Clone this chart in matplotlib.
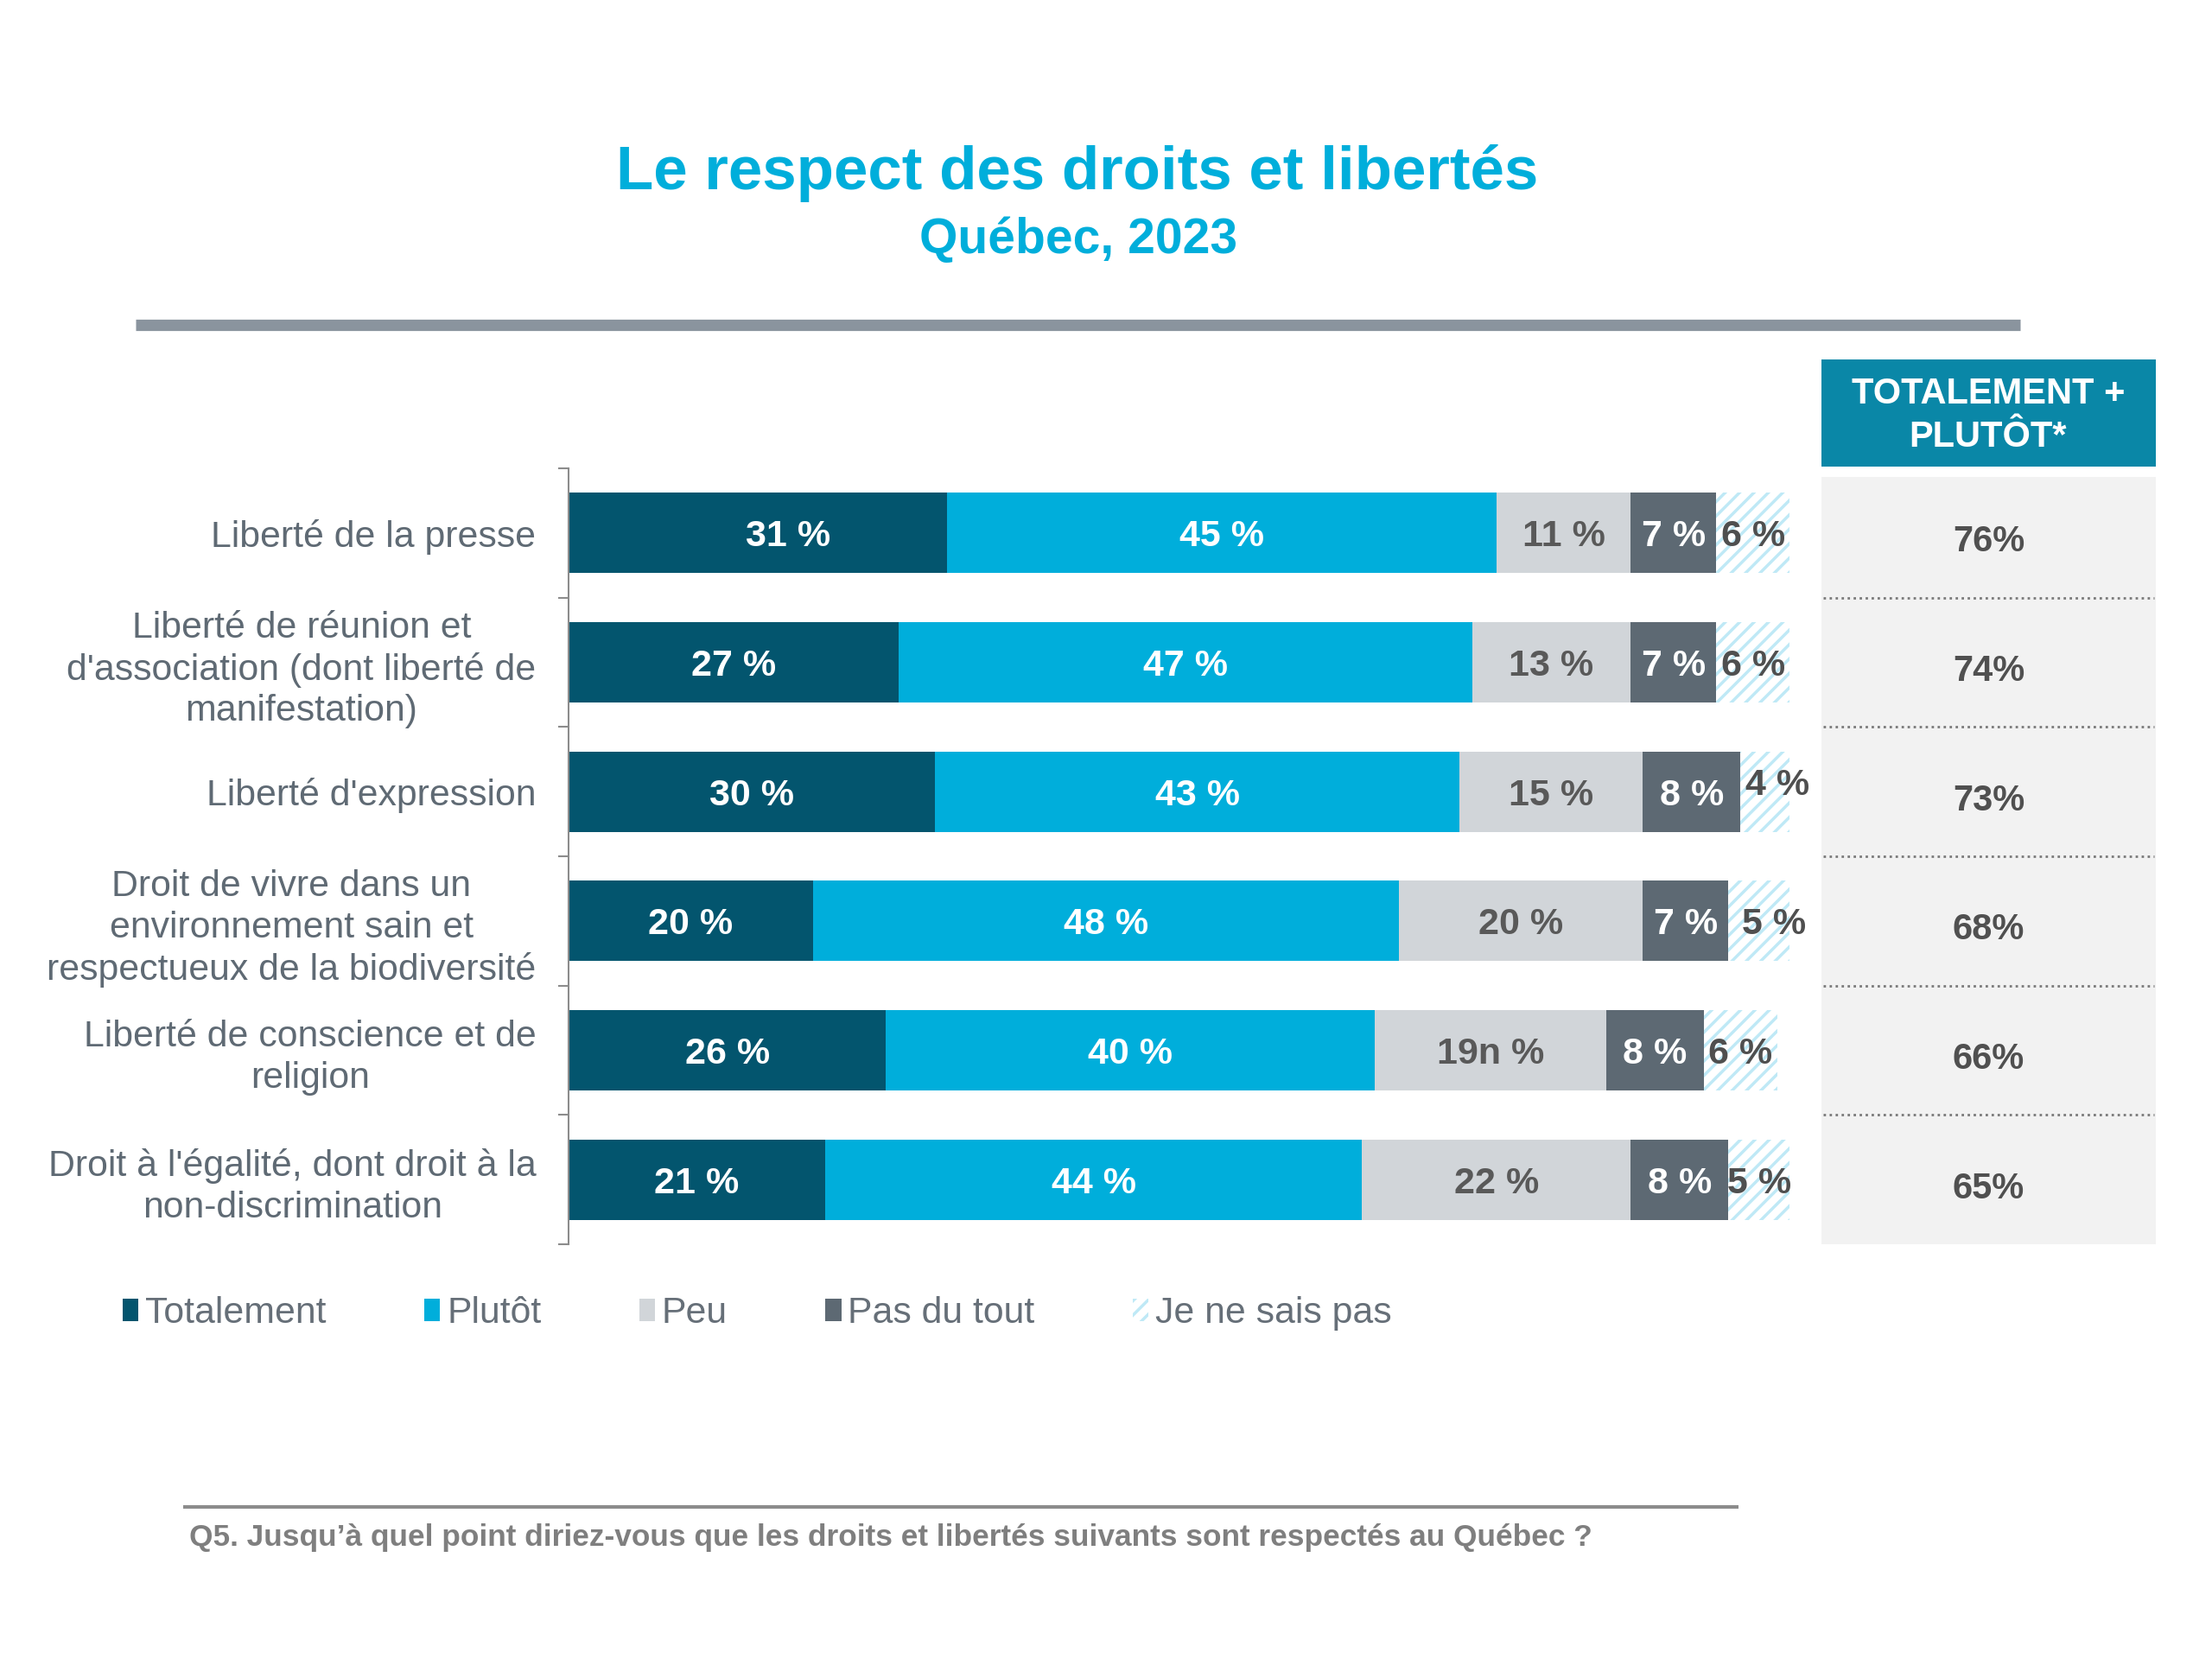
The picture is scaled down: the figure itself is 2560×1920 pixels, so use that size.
# -*- coding: utf-8 -*-
"""
Le respect des droits et libertés - Québec, 2023
"""
#%% import
import numpy as np
import matplotlib.pyplot as plt
import matplotlib.patches as mpatches
import matplotlib.lines as mlines

plt.rcParams['font.family'] = ['Liberation Sans', 'DejaVu Sans']
plt.rcParams['hatch.linewidth'] = 2.5

#%% data
categories = ['Liberté de la presse',
              "Liberté de réunion et\nd'association (dont liberté de\nmanifestation)",
              "Liberté d'expression",
              'Droit de vivre dans un\nenvironnement sain et\nrespectueux de la biodiversité',
              'Liberté de conscience et de\nreligion',
              "Droit à l'égalité, dont droit à la\nnon-discrimination"]
series = ['Totalement', 'Plutôt', 'Peu', 'Pas du tout', 'Je ne sais pas']
totalement = [31, 27, 30, 20, 26, 21]
plutot = [45, 47, 43, 48, 40, 44]
peu = [11, 13, 15, 20, 19, 22]
pas_du_tout = [7, 7, 8, 7, 8, 8]
ne_sais_pas = [6, 6, 4, 5, 6, 5]
# labels as printed on the original slide (incl. the "19n" typo)
peu_labels = ['11 %', '13 %', '15 %', '20 %', '19n %', '22 %']
total_plus = [76, 74, 73, 68, 66, 65]

#%% styles
W, H = 2560, 1920
colors = ['#03556e', '#00aedb', '#d1d5d9', '#5d6973', 'white']
txt_colors = ['white', 'white', '#595959', 'white', '#4f4f4f']
label_gray = '#5f6a74'
# small label nudges (series, row) -> (dx, dy), as on the slide
nudges = {(0, 0): (2.5, 0), (4, 2): (1.0, -0.08), (4, 3): (1.2, 0)}

fig = plt.figure(figsize=(W/100, H/100), dpi=100)
ax = fig.add_axes([658/W, 1 - 1440/H, (2071 - 658)/W, 898/H])

y = np.arange(len(categories))
left = np.zeros(len(categories))
all_vals = [totalement, plutot, peu, pas_du_tout, ne_sais_pas]
for k, (vals, name) in enumerate(zip(all_vals, series)):
    vals = np.array(vals)
    if name == 'Je ne sais pas':
        bars = ax.barh(y, vals, left=left, height=0.62, color='white',
                       edgecolor='#bfe9f6', hatch='//', lw=0, label=name)
    else:
        bars = ax.barh(y, vals, left=left, height=0.62, color=colors[k],
                       lw=0, label=name)
    for i, v in enumerate(vals):
        lab = peu_labels[i] if name == 'Peu' else f'{v} %'
        dx, dy = nudges.get((k, i), (0, 0))
        ax.text(left[i] + v/2 + dx, y[i] + 0.03 + dy, lab, ha='center',
                va='center', fontsize=31, fontweight='bold',
                color=txt_colors[k])
    left = left + vals

ax.set_xlim(0, 100)
ax.set_ylim(5.5, -0.5)
ax.xaxis.set_visible(False)
for s in ['top', 'right', 'bottom']:
    ax.spines[s].set_visible(False)
ax.spines['left'].set_color('#8c8c8c')
ax.spines['left'].set_linewidth(1.5)
ax.set_yticks(y)
ax.set_yticklabels(categories, fontsize=30.8, color=label_gray,
                   multialignment='center', linespacing=1.25)
ax.tick_params(axis='y', which='major', length=0, pad=27)
ax.set_yticks(np.arange(-0.5, len(categories)), minor=True)
ax.tick_params(axis='y', which='minor', length=9, width=1.5,
               color='#8c8c8c', direction='out')
ax.set_facecolor('none')

#%% side panel
pax = fig.add_axes([2108/W, 1 - 1440/H, 387/W, 888/H])
pax.set_xlim(0, 1)
pax.set_ylim(5.5, -0.5 + 10/150)
pax.set_facecolor('#f2f2f2')
for s in pax.spines.values():
    s.set_visible(False)
pax.set_xticks([])
pax.set_yticks([])
for i, v in enumerate(total_plus):
    pax.text(0.5, y[i] + 0.07, f'{v}%', ha='center', va='center',
             fontsize=30, fontweight='bold', color='#505050')
pax.hlines(y[:-1] + 0.5, 0.005, 0.995, colors='#7a7a7a',
           linestyles=(0, (1, 1.5)), lw=2)

fig.add_artist(mpatches.Rectangle((2108/W, 1 - 540/H), 387/W, 124/H,
                                  transform=fig.transFigure,
                                  color='#0a87a7', lw=0))
fig.text(2301/W, 1 - 481/H, 'TOTALEMENT +\nPLUTÔT*', ha='center',
         va='center', fontsize=30, fontweight='bold', color='white',
         linespacing=1.32)

#%% titles
fig.text(0.487, 1 - 201/H, 'Le respect des droits et libertés',
         ha='center', va='center', fontsize=51, fontweight='bold',
         color='#00aedb')
fig.text(0.4875, 1 - 278/H, 'Québec, 2023', ha='center', va='center',
         fontsize=41, fontweight='bold', color='#00aedb')
fig.add_artist(mlines.Line2D([157/W, 2338/W], [1 - 376/H, 1 - 376/H],
                             color='#8a949e', lw=9.5, solid_capstyle='butt',
                             transform=fig.transFigure))

#%% legend
handles, labels = ax.get_legend_handles_labels()
leg = fig.legend(handles, labels, loc='center left',
                 bbox_to_anchor=(142/W, 1 - 1520/H), ncol=5, frameon=False,
                 fontsize=30.8, handlelength=0.43, handleheight=0.55,
                 handletextpad=0.18, columnspacing=2.65, borderpad=0,
                 borderaxespad=0)
for t in leg.get_texts():
    t.set_color('#666f78')

#%% footer
fig.add_artist(mlines.Line2D([212/W, 2012/W], [1 - 1744/H, 1 - 1744/H],
                             color='#8c8c8c', lw=3, solid_capstyle='butt',
                             transform=fig.transFigure))
fig.text(219/W, 1 - 1779/H,
         'Q5. Jusqu’à quel point diriez-vous que les droits et libertés '
         'suivants sont respectés au Québec ?',
         ha='left', va='center', fontsize=25.4, fontweight='bold',
         color='#7f7f7f')

fig.savefig('out.png', dpi=100)
